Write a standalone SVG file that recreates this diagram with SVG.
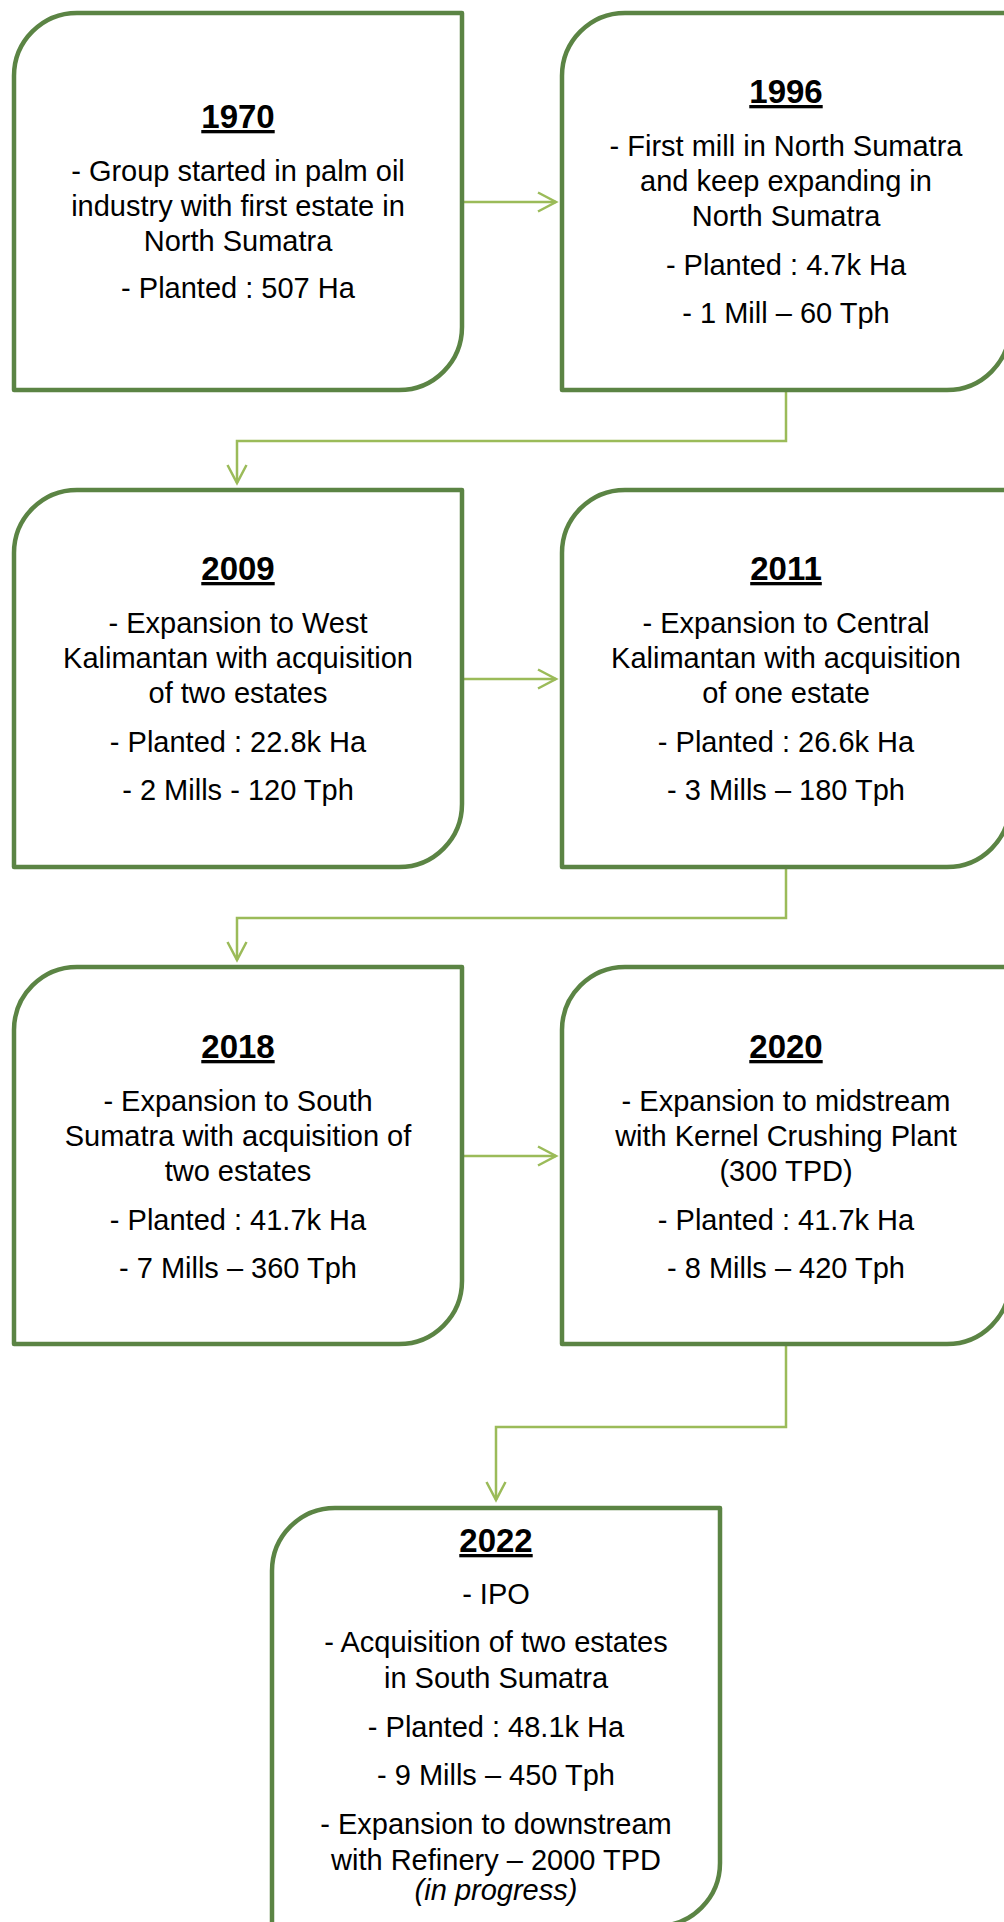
<svg xmlns="http://www.w3.org/2000/svg" width="1004" height="1922" viewBox="0 0 1004 1922">
<style>
.box{fill:#ffffff;stroke:#5B8444;stroke-width:4.5;stroke-linejoin:round}
.conn{fill:none;stroke:#9BBB59;stroke-width:2.5}
.yr{font-family:"Liberation Sans",Arial,sans-serif;font-weight:bold;font-size:33px;text-anchor:middle;fill:#000;text-decoration:underline}
.tx{font-family:"Liberation Sans",Arial,sans-serif;font-size:29px;text-anchor:middle;fill:#000}
.it{font-style:italic}
</style>
<defs>
<marker id="arr" markerUnits="userSpaceOnUse" markerWidth="24" markerHeight="24" refX="19" refY="11" orient="auto">
<path d="M1,1.5 L19,11 L1,20.5" fill="none" stroke="#9BBB59" stroke-width="2.5"/>
</marker>
</defs>
<rect width="1004" height="1922" fill="#ffffff"/>
<g id="connectors">
<path class="conn" d="M464,202 H556" marker-end="url(#arr)"/>
<path class="conn" d="M786,392 V441 H237 V483" marker-end="url(#arr)"/>
<path class="conn" d="M464,679 H556" marker-end="url(#arr)"/>
<path class="conn" d="M786,869 V918 H237 V960" marker-end="url(#arr)"/>
<path class="conn" d="M464,1156 H556" marker-end="url(#arr)"/>
<path class="conn" d="M786,1346 V1427 H496 V1500" marker-end="url(#arr)"/>
</g>
<g id="node-1970">
<path class="box" d="M77,13 H462 V327 A63,63 0 0 1 399,390 H14 V76 A63,63 0 0 1 77,13 Z"/>
<text class="yr" x="238" y="128">1970</text>
<text class="tx" x="238" y="181">- Group started in palm oil</text>
<text class="tx" x="238" y="216">industry with first estate in</text>
<text class="tx" x="238" y="251">North Sumatra</text>
<text class="tx" x="238" y="298">- Planted : 507 Ha</text>
</g>
<g id="node-1996">
<path class="box" d="M625,13 H1010 V327 A63,63 0 0 1 947,390 H562 V76 A63,63 0 0 1 625,13 Z"/>
<text class="yr" x="786" y="103">1996</text>
<text class="tx" x="786" y="156">- First mill in North Sumatra</text>
<text class="tx" x="786" y="191">and keep expanding in</text>
<text class="tx" x="786" y="226">North Sumatra</text>
<text class="tx" x="786" y="275">- Planted : 4.7k Ha</text>
<text class="tx" x="786" y="323">- 1 Mill – 60 Tph</text>
</g>
<g id="node-2009">
<path class="box" d="M77,490 H462 V804 A63,63 0 0 1 399,867 H14 V553 A63,63 0 0 1 77,490 Z"/>
<text class="yr" x="238" y="580">2009</text>
<text class="tx" x="238" y="633">- Expansion to West</text>
<text class="tx" x="238" y="668">Kalimantan with acquisition</text>
<text class="tx" x="238" y="703">of two estates</text>
<text class="tx" x="238" y="752">- Planted : 22.8k Ha</text>
<text class="tx" x="238" y="800">- 2 Mills - 120 Tph</text>
</g>
<g id="node-2011">
<path class="box" d="M625,490 H1010 V804 A63,63 0 0 1 947,867 H562 V553 A63,63 0 0 1 625,490 Z"/>
<text class="yr" x="786" y="580">2011</text>
<text class="tx" x="786" y="633">- Expansion to Central</text>
<text class="tx" x="786" y="668">Kalimantan with acquisition</text>
<text class="tx" x="786" y="703">of one estate</text>
<text class="tx" x="786" y="752">- Planted : 26.6k Ha</text>
<text class="tx" x="786" y="800">- 3 Mills – 180 Tph</text>
</g>
<g id="node-2018">
<path class="box" d="M77,967 H462 V1281 A63,63 0 0 1 399,1344 H14 V1030 A63,63 0 0 1 77,967 Z"/>
<text class="yr" x="238" y="1058">2018</text>
<text class="tx" x="238" y="1111">- Expansion to South</text>
<text class="tx" x="238" y="1146">Sumatra with acquisition of</text>
<text class="tx" x="238" y="1181">two estates</text>
<text class="tx" x="238" y="1230">- Planted : 41.7k Ha</text>
<text class="tx" x="238" y="1278">- 7 Mills – 360 Tph</text>
</g>
<g id="node-2020">
<path class="box" d="M625,967 H1010 V1281 A63,63 0 0 1 947,1344 H562 V1030 A63,63 0 0 1 625,967 Z"/>
<text class="yr" x="786" y="1058">2020</text>
<text class="tx" x="786" y="1111">- Expansion to midstream</text>
<text class="tx" x="786" y="1146">with Kernel Crushing Plant</text>
<text class="tx" x="786" y="1181">(300 TPD)</text>
<text class="tx" x="786" y="1230">- Planted : 41.7k Ha</text>
<text class="tx" x="786" y="1278">- 8 Mills – 420 Tph</text>
</g>
<g id="node-2022">
<path class="box" d="M335,1508 H720 V1863 A63,63 0 0 1 657,1926 H272 V1571 A63,63 0 0 1 335,1508 Z"/>
<text class="yr" x="496" y="1552">2022</text>
<text class="tx" x="496" y="1604">- IPO</text>
<text class="tx" x="496" y="1652">- Acquisition of two estates</text>
<text class="tx" x="496" y="1688">in South Sumatra</text>
<text class="tx" x="496" y="1737">- Planted : 48.1k Ha</text>
<text class="tx" x="496" y="1785">- 9 Mills – 450 Tph</text>
<text class="tx" x="496" y="1834">- Expansion to downstream</text>
<text class="tx" x="496" y="1870">with Refinery – 2000 TPD</text>
<text class="tx it" x="496" y="1900">(in progress)</text>
</g>
</svg>
